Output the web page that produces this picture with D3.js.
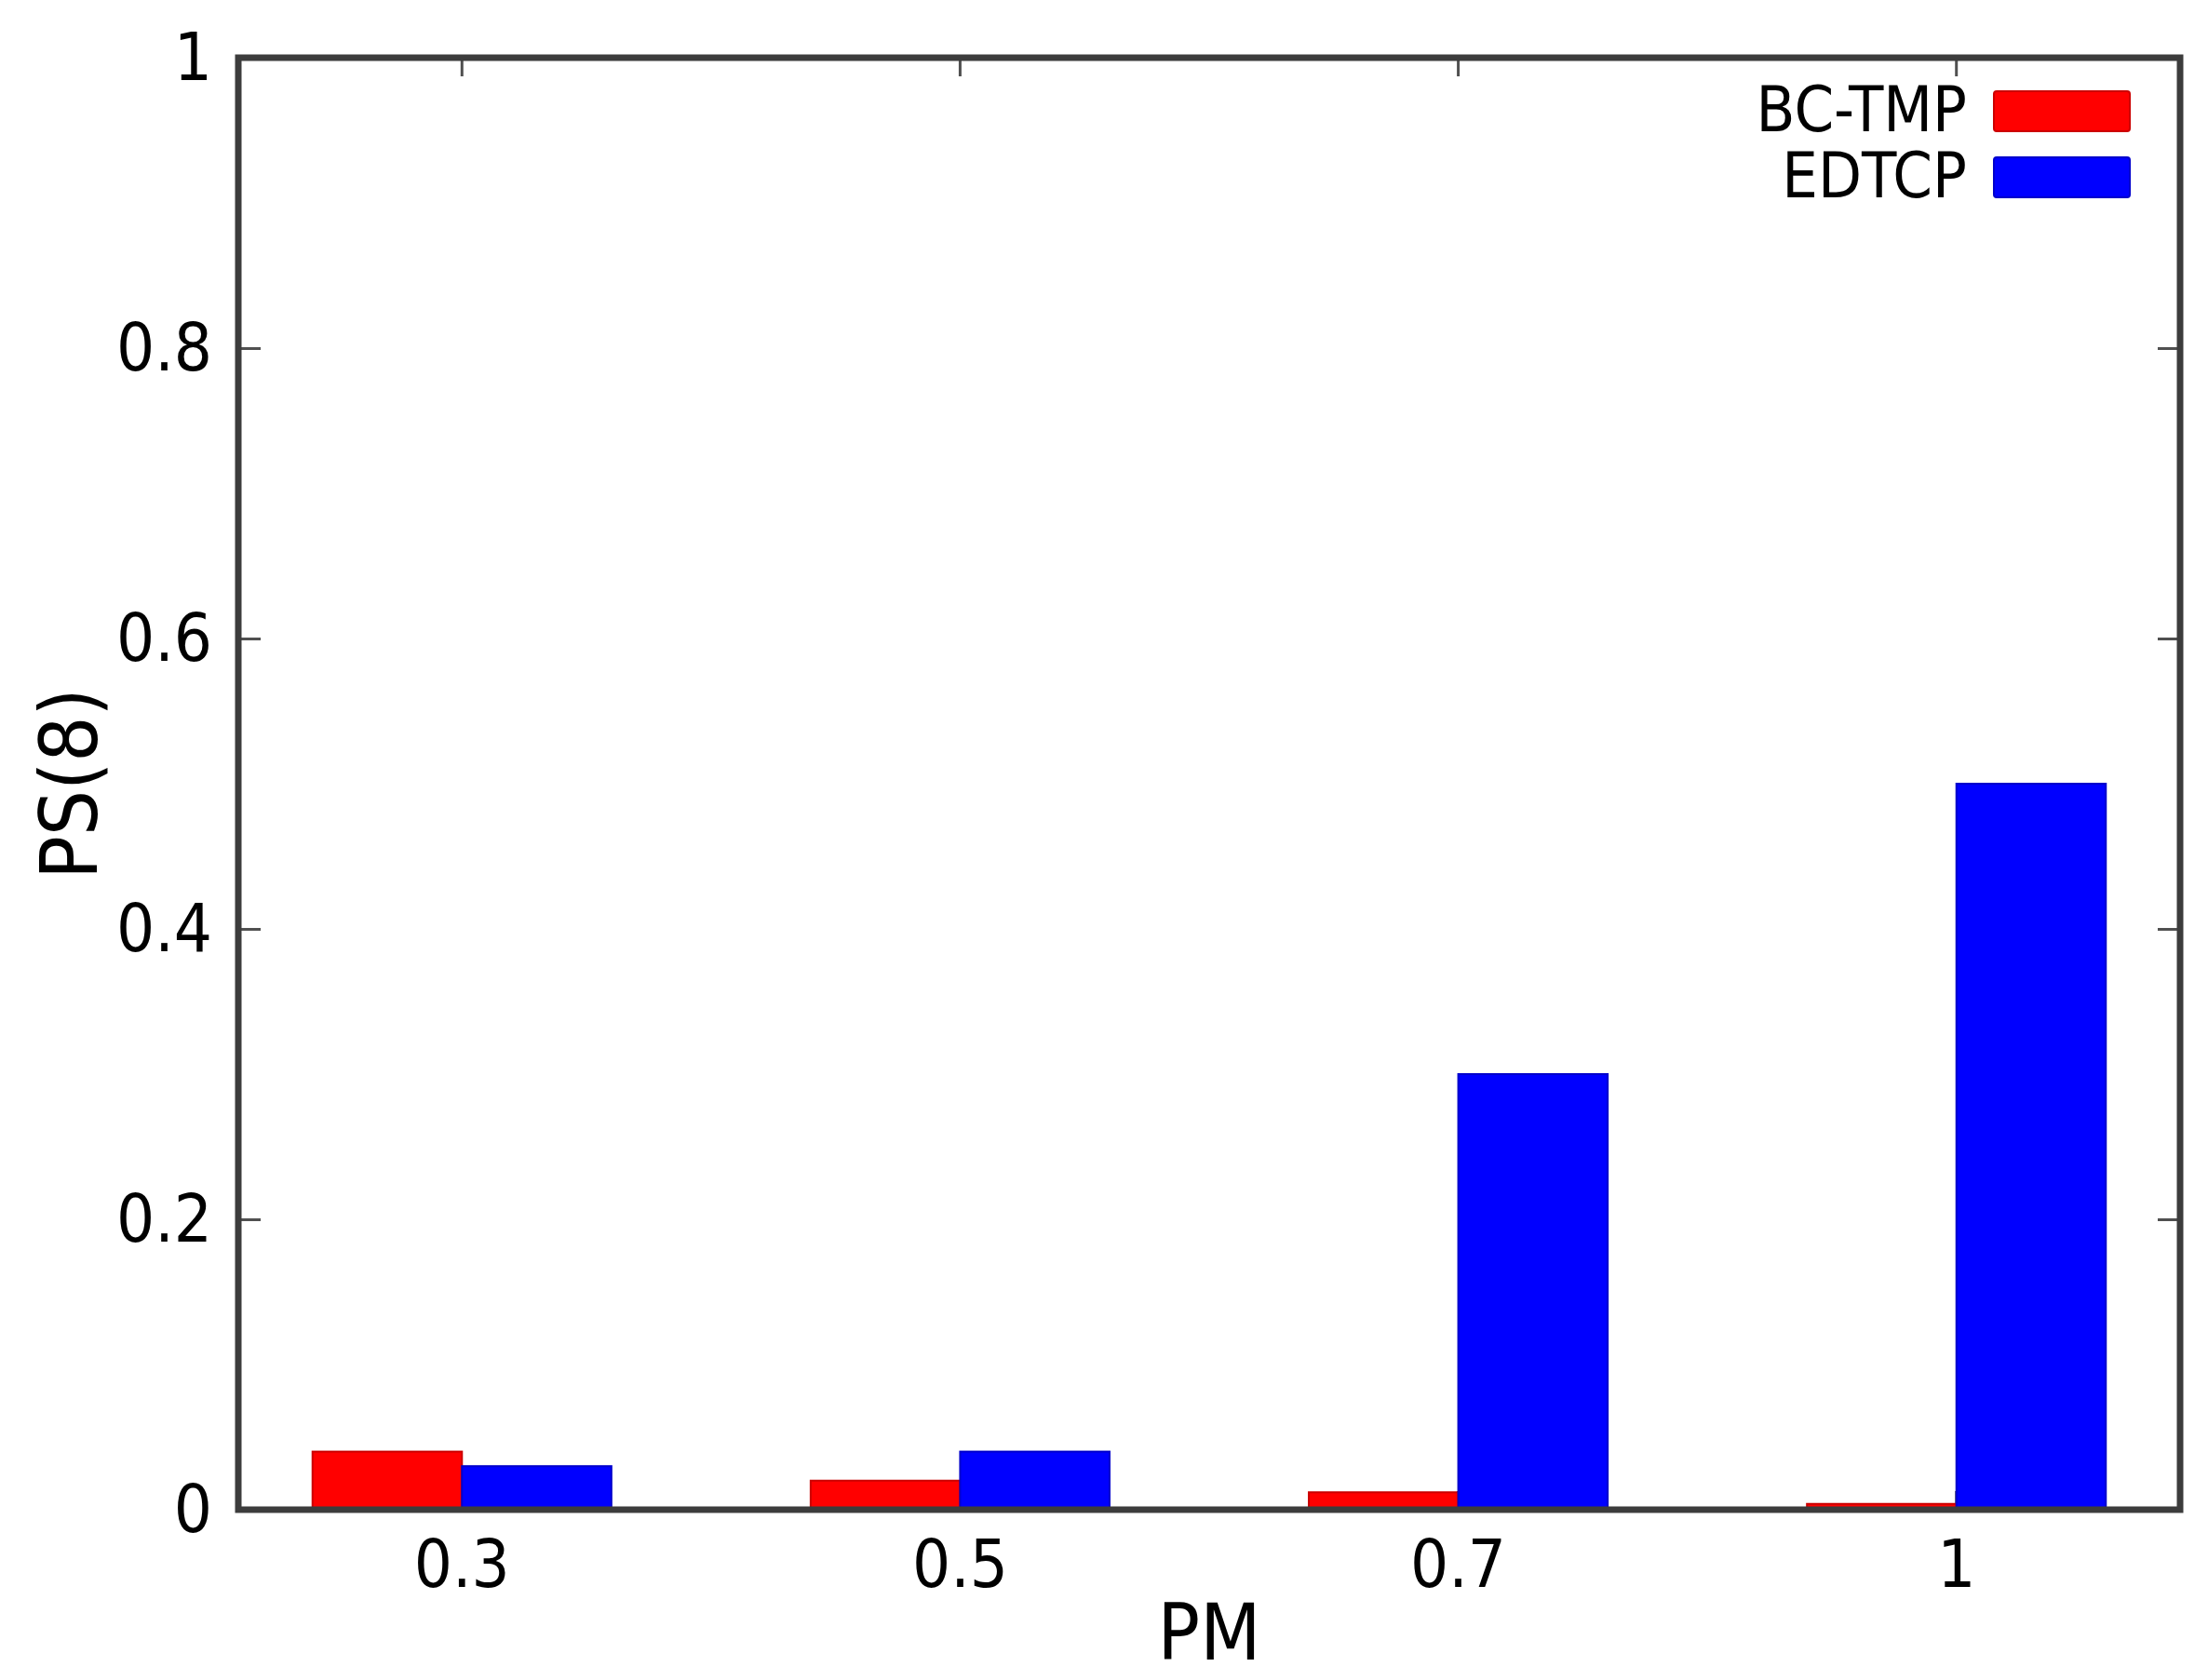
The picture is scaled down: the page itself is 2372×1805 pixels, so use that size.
<!DOCTYPE html>
<html>
<head>
<meta charset="utf-8">
<script src="https://cdn.jsdelivr.net/npm/d3@7"></script>
<style>
    body { margin: 0; background: #fff; }
    text { font-family: "DejaVu Sans Condensed", "DejaVu Sans", sans-serif; font-stretch: condensed; fill: #000; }
</style>
</head>
<body>
<div id="chart"></div>
<script>
// data
const categories = ['0.3', '0.5', '0.7', '1']
const seriesNames = ['BC-TMP', 'EDTCP']
const bcTmp = [0.04, 0.02, 0.012, 0.004]
const edtcp = [0.03, 0.04, 0.3, 0.5]
const yTicks = [0, 0.2, 0.4, 0.6, 0.8, 1]
const colors = ['#ff0000', '#0000ff']
const strokeColors = ['#cc0000', '#0000cc']

const width = 2372
const height = 1805
const margin = { top: 62, right: 30, bottom: 183, left: 256 }
const innerWidth = width - margin.left - margin.right
const innerHeight = height - margin.top - margin.bottom

const rows = categories.map((c, i) => ({ cat: c, values: [bcTmp[i], edtcp[i]] }))

const svg = d3.select('#chart').append('svg')
    .attr('width', width).attr('height', height)

const g = svg.append('g')
    .attr('transform', `translate(${margin.left}, ${margin.top})`)

//schalen
const xScale = d3.scaleBand()
    .domain(categories)
    .range([0, innerWidth])
    .paddingInner(0.4)
    .paddingOuter(0.149)

const xSub = d3.scaleBand()
    .domain(d3.range(seriesNames.length))
    .range([0, xScale.bandwidth()])

const yScale = d3.scaleLinear()
    .domain([0, 1])
    .range([innerHeight, 0])

//assen met ticks naar binnen
const tickStyle = sel => {
    sel.selectAll('.domain').remove()
    sel.selectAll('.tick line').attr('stroke', '#505050').attr('stroke-width', 3)
}

g.append('g')
    .call(d3.axisLeft(yScale).tickValues(yTicks).tickSize(-24).tickPadding(28).tickFormat(d3.format('~g')))
    .call(tickStyle)
    .call(a => a.selectAll('text').attr('font-size', 72))

g.append('g')
    .attr('transform', `translate(${innerWidth}, 0)`)
    .call(d3.axisRight(yScale).tickValues(yTicks).tickSize(-24).tickFormat(''))
    .call(tickStyle)

g.append('g')
    .call(d3.axisTop(xScale).tickSize(-20).tickFormat(''))
    .call(tickStyle)

g.append('g')
    .attr('transform', `translate(0, ${innerHeight})`)
    .call(d3.axisBottom(xScale).tickSize(-20).tickPadding(32))
    .call(tickStyle)
    .call(a => a.selectAll('text').attr('font-size', 72))

//staven
const groups = g.append('g').selectAll('g')
    .data(rows)
    .enter().append('g')
    .attr('transform', d => `translate(${xScale(d.cat)}, 0)`)

groups.selectAll('rect')
    .data(d => d.values)
    .enter().append('rect')
    .attr('x', (d, i) => xSub(i))
    .attr('width', xSub.bandwidth())
    .attr('y', d => yScale(d))
    .attr('height', d => innerHeight - yScale(d))
    .attr('fill', (d, i) => colors[i])
    .attr('stroke', (d, i) => strokeColors[i])
    .attr('stroke-width', 2)

//kader
g.append('rect')
    .attr('width', innerWidth)
    .attr('height', innerHeight)
    .attr('fill', 'none')
    .attr('stroke', '#3c3c3c')
    .attr('stroke-width', 7)

//legenda
const legend = g.append('g')
    .attr('transform', `translate(${innerWidth - 224}, 36)`)

seriesNames.forEach((name, i) => {
    const row = legend.append('g').attr('transform', `translate(0, ${i * 71})`)
    row.append('rect')
        .attr('x', 24).attr('y', 0)
        .attr('width', 146).attr('height', 43)
        .attr('rx', 3)
        .attr('fill', colors[i])
        .attr('stroke', strokeColors[i])
        .attr('stroke-width', 2)
    row.append('text')
        .attr('x', -5).attr('y', 43)
        .attr('text-anchor', 'end')
        .attr('font-size', 68)
        .text(name)
})

//as labels
svg.append('text')
    .attr('x', margin.left + innerWidth / 2)
    .attr('y', 1783)
    .attr('text-anchor', 'middle')
    .attr('font-size', 84)
    .text('PM')

svg.append('text')
    .attr('transform', `translate(104, ${margin.top + innerHeight / 2}) rotate(-90)`)
    .attr('text-anchor', 'middle')
    .attr('font-size', 86)
    .text('PS(8)')
</script>
</body>
</html>
